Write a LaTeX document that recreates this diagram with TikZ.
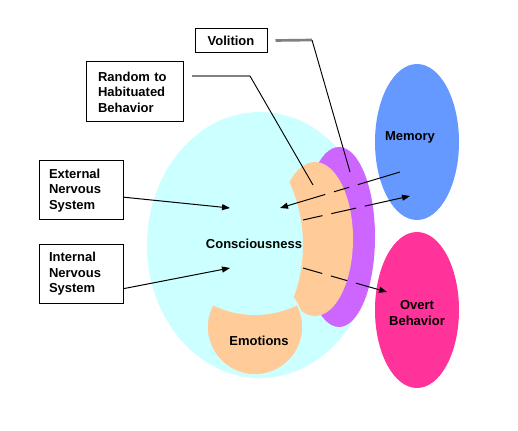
\documentclass[tikz,border=0pt]{standalone}
\usepackage{fontspec}
\setmainfont{Liberation Sans}
\usetikzlibrary{arrows.meta}
\definecolor{conscfill}{HTML}{CCFFFF}
\definecolor{habitfill}{HTML}{FFCC99}
\definecolor{volfill}{HTML}{CC66FF}
\definecolor{memfill}{HTML}{6699FF}
\definecolor{overtfill}{HTML}{FF3399}
\definecolor{leadgray}{HTML}{808080}
\tikzset{
  txt/.style={font=\bfseries\fontsize{9.75}{11.6}\selectfont, align=center},
  labelbox/.style={txt, draw, line width=0.75pt, fill=white, align=left},
  leader/.style={draw=leadgray, line width=2pt},
  pointer/.style={line width=0.7pt},
  flow/.style={line width=0.75pt, -{Triangle[length=6pt,width=4.5pt]}}
}
\begin{document}
\begin{tikzpicture}[x=0.75pt, y=-0.75pt]
    \useasboundingbox (0,0) rectangle (518,431);
    % shapes
    \fill[conscfill] (260,245) ellipse [x radius=113, y radius=133];
    \fill[volfill] (339,237) ellipse [x radius=36, y radius=90];
    \begin{scope}
        \clip (315,239) ellipse [x radius=38, y radius=77];
        \fill[habitfill, even odd rule] (250,150) rectangle (360,330) (150,245) circle [radius=153];
    \end{scope}
    \draw[conscfill, line width=1.2pt, fill=habitfill] (255,327) circle [radius=48];
    \begin{scope}
        \clip (255,327) circle [radius=48];
        \fill[conscfill] (255,220) circle [radius=95];
    \end{scope}
    \fill[memfill] (417,142) ellipse [x radius=42, y radius=78];
    \fill[overtfill] (417,310) ellipse [x radius=42, y radius=78];
    % texts
    \node[txt] (cons) at (254,244) {Consciousness};
    \node[txt] (emo) at (259,341) {Emotions};
    \node[txt] (mem) at (410,137) {Memory};
    \node[txt, text depth=0pt] (overt) at (417,313) {Overt\\Behavior};
    % label boxes
    \node[labelbox, align=center, minimum width=54pt, minimum height=18pt, inner sep=0pt] (vol) at (231,40.5) {Volition};
    \node[labelbox, text width=54.75pt, inner xsep=9pt, minimum height=45pt] (rand) at (134.5,92) {Random to\\Habituated\\Behavior};
    \node[labelbox, text width=48pt, inner xsep=7.5pt, minimum height=44.25pt] (ext) at (81,190.5) {External\\Nervous\\System};
    \node[labelbox, text width=48pt, inner xsep=7.5pt, minimum height=44.25pt] (int) at (81,274) {Internal\\Nervous\\System};
    % end points
    \coordinate (vbend) at (312,40);
    \coordinate (volpt) at (350,172);
    \coordinate (rbend) at (250,76);
    \coordinate (randpt) at (313,185);
    \coordinate (extpt) at (230,208);
    \coordinate (intpt) at (230,268);
    \coordinate (memout) at (400,172);
    \coordinate (consin) at (280,208);
    \coordinate (consout) at (303,220);
    \coordinate (memin) at (410,196);
    \coordinate (behout) at (303,268);
    \coordinate (overtin) at (387,292);
    % leaders
    \draw[leader] ([xshift=6pt]vol.east) -- (vbend);
    \draw[pointer] (vbend) -- (volpt);
    \draw[leader] ([xshift=6pt,yshift=12pt]rand.east) -- (rbend);
    \draw[pointer] (rbend) -- (randpt);
    % arrows
    \draw[flow] ([yshift=-5pt]ext.east) -- (extpt);
    \draw[flow] ([yshift=-11pt]int.east) -- (intpt);
    \draw[flow, dash pattern=on 33pt off 6.75pt on 12pt off 6.75pt on 100pt off 1pt] (memout) -- (consin);
    \draw[flow, dash pattern=on 15pt off 6.75pt on 19pt off 6.75pt on 100pt off 1pt] (consout) -- (memin);
    \draw[flow, dash pattern=on 15pt off 6.75pt on 12.75pt off 6.75pt on 100pt off 1pt] (behout) -- (overtin);
\end{tikzpicture}
\end{document}
